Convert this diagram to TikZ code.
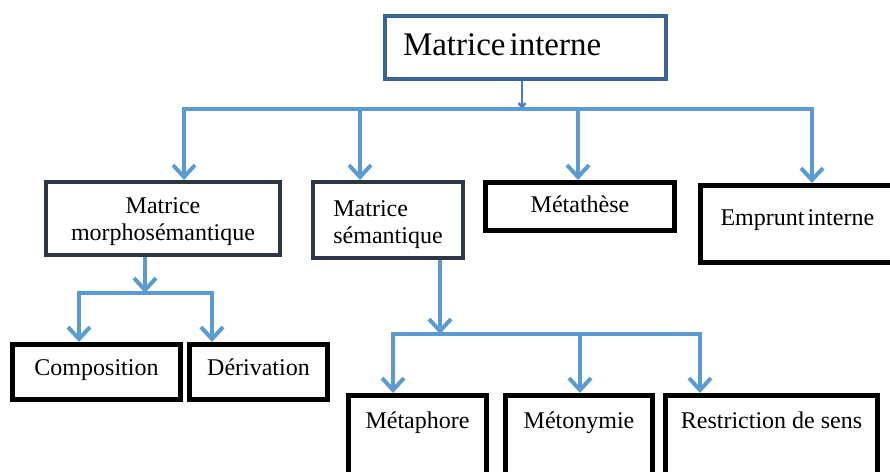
\documentclass[tikz,border=0pt]{standalone}
\usepackage{fontspec}
\setmainfont{Liberation Serif}
\usepackage{tikz}
\usetikzlibrary{arrows.meta,positioning}
\definecolor{bleufleche}{HTML}{5B9BD5}
\definecolor{bleucadre}{HTML}{3B6496}
\definecolor{bleutrait}{HTML}{4A7EBB}
\definecolor{ardoise}{HTML}{2D3643}
\tikzset{cadre/.style={draw=black,line width=5pt,inner sep=0pt,anchor=north west,align=center,font=\fontsize{24}{27}\selectfont}}
\tikzset{cadregris/.style={cadre,draw=ardoise,line width=4pt}}
\tikzset{fleche/.style={draw=bleufleche,line width=4pt,-{Straight Barb[length=12pt,width=22pt]}}}
\tikzset{barre/.style={draw=bleufleche,line width=4pt,line cap=rect}}
\tikzset{lien/.style={draw=bleutrait,line width=2.5pt,-{Straight Barb[length=4pt,width=7pt]}}}

\begin{document}
\begin{tikzpicture}[x=1pt,y=-1pt]
\useasboundingbox (0,0) rectangle (890,471);
\clip (0,0) rectangle (890,471);
% niveau 0
\node (interne) [cadre,draw=bleucadre,line width=4pt,align=left,text width=245pt,inner xsep=18pt,text height=39pt,text depth=24pt,font=\fontsize{33}{36}\selectfont] at (383,14) {Matrice\hspace{4pt}interne};
% niveau 1
\node (morpho) [cadregris,minimum width=234pt,text height=58pt,text depth=15pt] at (44,180) {Matrice\\morphosémantique};
\node (semantique) [cadregris,align=left,minimum width=150pt,text height=61pt,text depth=15pt] at (311,180) {Matrice\\sémantique};
\node (metathese) [cadre,minimum width=189pt,text height=29.5pt,text depth=18.5pt] at (483,180) {Métathèse};
\node (emprunt) [cadre,align=left,text width=180pt,inner xsep=20pt,text height=39.5pt,text depth=37.5pt] at (698,183) {Emprunt\hspace{3pt}interne};
% niveau 2
\node (composition) [cadre,minimum width=168pt,text height=30.5pt,text depth=24.5pt] at (10,342) {Composition};
\node (derivation) [cadre,minimum width=138pt,text height=30.5pt,text depth=24.5pt] at (187,342) {Dérivation};
\node (metaphore) [cadre,minimum width=138pt,text height=32.5pt,text depth=92pt] at (346,393) {Métaphore};
\node (metonymie) [cadre,minimum width=147pt,text height=32.5pt,text depth=92pt] at (503,393) {Métonymie};
\node (restriction) [cadre,minimum width=212pt,text height=32.5pt,text depth=92pt] at (663,393) {Restriction de sens};
%
\coordinate (h) at (522,109);
\coordinate (b1) at (184,109);
\coordinate (b2) at (360,109);
\coordinate (b3) at (578,109);
\coordinate (b4) at (812,109);
\draw[lien] (h |- interne.south) -- (h);
\draw[barre] (b1) -- (b4);
\foreach \depart/\cible in {b1/morpho,b2/semantique,b3/metathese,b4/emprunt}
  \draw[fleche] (\depart) -- (\depart |- \cible.north);
%
\coordinate (m) at (145,293);
\coordinate (m1) at (79,293);
\coordinate (m2) at (212,293);
\draw[fleche] (m |- morpho.south) -- (m);
\draw[barre] (m1) -- (m2);
\foreach \depart/\cible in {m1/composition,m2/derivation}
  \draw[fleche] (\depart) -- (\depart |- \cible.north);
%
\coordinate (s) at (440,334);
\coordinate (s1) at (393,334);
\coordinate (s2) at (580,334);
\coordinate (s3) at (700,334);
\draw[fleche] (s |- semantique.south) -- (s);
\draw[barre] (s1) -- (s3);
\foreach \depart/\cible in {s1/metaphore,s2/metonymie,s3/restriction}
  \draw[fleche] (\depart) -- (\depart |- \cible.north);
\end{tikzpicture}
\end{document}
